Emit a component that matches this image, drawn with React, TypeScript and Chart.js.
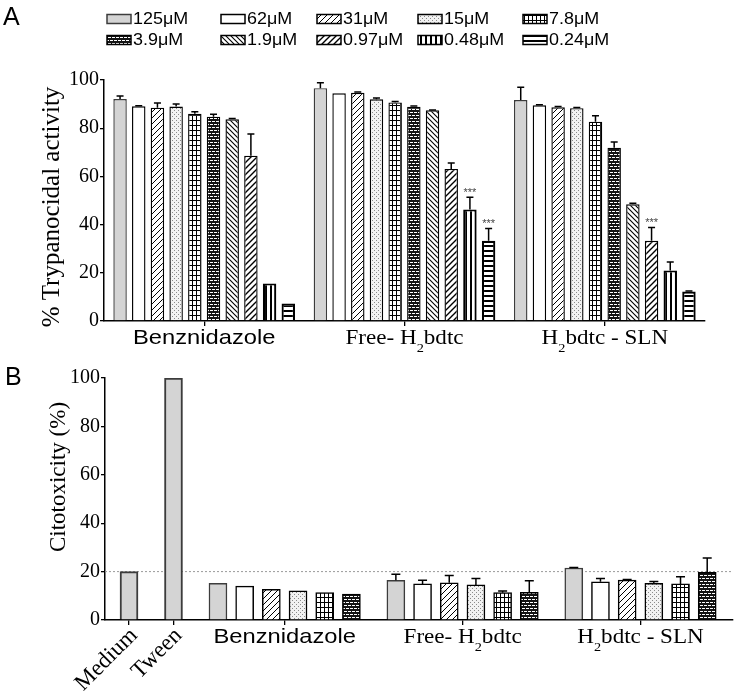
import React, { useEffect, useRef } from 'react';
import { Chart, registerables } from 'chart.js';

Chart.register(...registerables);

// ---------------- data ----------------
const concentrations = ['125μM', '62μM', '31μM', '15μM', '7.8μM', '3.9μM', '1.9μM', '0.97μM', '0.48μM', '0.24μM'];
const treatments = ['Benznidazole', 'Free- H₂bdtc', 'H₂bdtc - SLN'];
const yTicks = [0, 20, 40, 60, 80, 100];

// Panel A – % trypanocidal activity (mean) and SD, one value per concentration
const trypBenznidazole = [92.1, 89.1, 88.5, 89.0, 86.0, 84.8, 83.7, 68.6, 15.6, 7.3];
const trypBenznidazoleSD = [1.3, 0.2, 2.0, 1.0, 0.8, 1.0, 0.3, 9.0, 0.0, 0.0];
const trypFree = [96.6, 94.5, 94.7, 92.0, 90.7, 88.9, 87.4, 63.1, 46.3, 33.3];
const trypFreeSD = [2.3, 0.0, 0.3, 0.5, 0.4, 0.3, 0.2, 2.5, 5.1, 5.1];
const trypSLN = [91.7, 89.5, 88.7, 88.3, 82.7, 71.9, 48.4, 33.3, 21.0, 12.2];
const trypSLNSD = [5.3, 0.2, 0.3, 0.3, 2.5, 2.4, 0.5, 5.5, 3.5, 0.3];
// significance marks: [treatment index, concentration index]
const trypSignificant = [[1, 8], [1, 9], [2, 7]];
const significanceLabel = '***';

// Panel B – cytotoxicity (%)
const cytoControls = ['Medium', 'Tween'];
const cytoControlValues = [20, 100];
const cytoBenznidazole = [15.2, 14.0, 12.7, 12.1, 11.3, 10.7];
const cytoBenznidazoleSD = [0, 0, 0, 0, 0, 0];
const cytoFree = [16.4, 14.9, 15.4, 14.5, 11.3, 11.4];
const cytoFreeSD = [2.5, 1.5, 3.0, 2.7, 0.7, 4.8];
const cytoSLN = [21.5, 15.8, 16.5, 15.2, 14.9, 19.7];
const cytoSLNSD = [0.2, 1.4, 0.2, 0.7, 3.0, 5.9];
const cytoThreshold = 20;

// ---------------- styles / layout ----------------
const SERIF = '"Liberation Serif", "Times New Roman", serif';
const SANS = '"Liberation Sans", Arial, sans-serif';
const treatmentFonts = [SANS, SERIF, SERIF];
const patternKinds = ['gray', 'white', 'diagUp', 'dots', 'grid', 'brick', 'diagDown', 'diagUpBold', 'vStripes', 'hStripes'];
const legendCols = [107, 221, 317, 418, 523];
const legendRows = [19, 40];
const GRAY_BORDER = '#3c3c3c';

// column layout for panel B (linear index axis, in column units)
const controlColumn = (k: number) => k * 5;
const cytoColumn = (g: number, i: number) => 10 + g * 20 + i * 3;
const cytoGroupCenter = (g: number, n: number) => (cytoColumn(g, 0) + cytoColumn(g, n - 1)) / 2;

function makePattern(kind: string): any {
  if (kind === 'gray') return '#d4d4d4';
  if (kind === 'white') return '#ffffff';
  const c = document.createElement('canvas');
  const g = c.getContext('2d') as CanvasRenderingContext2D;
  const setup = (w: number, h: number, bg: string) => {
    c.width = w; c.height = h;
    g.fillStyle = bg; g.fillRect(0, 0, w, h);
  };
  switch (kind) {
    case 'diagUp':
    case 'diagUpBold': {
      const s = 6; setup(s, s, '#fff');
      g.strokeStyle = '#000'; g.lineWidth = kind === 'diagUp' ? 1 : 1.4;
      g.beginPath();
      g.moveTo(0, s); g.lineTo(s, 0);
      g.moveTo(-s / 2, s / 2); g.lineTo(s / 2, -s / 2);
      g.moveTo(s / 2, s * 1.5); g.lineTo(s * 1.5, s / 2);
      g.stroke();
      break;
    }
    case 'diagDown': {
      const s = 5; setup(s, s, '#fff');
      g.strokeStyle = '#000'; g.lineWidth = 1.1;
      g.beginPath();
      g.moveTo(0, 0); g.lineTo(s, s);
      g.moveTo(-s / 2, s / 2); g.lineTo(s / 2, s * 1.5);
      g.moveTo(s / 2, -s / 2); g.lineTo(s * 1.5, s / 2);
      g.stroke();
      break;
    }
    case 'dots':
      setup(4, 4, '#f2f2f2'); g.fillStyle = '#8a8a8a';
      g.fillRect(0, 0, 1, 1); g.fillRect(2, 2, 1, 1);
      break;
    case 'grid':
      setup(4, 5, '#fff'); g.fillStyle = '#000';
      g.fillRect(0, 0, 1, 5); g.fillRect(0, 0, 4, 1);
      break;
    case 'brick':
      setup(8, 6, '#141414'); g.fillStyle = '#fff';
      g.fillRect(0, 1, 3, 1); g.fillRect(4, 1, 3, 1);
      g.fillRect(2, 4, 3, 1); g.fillRect(6, 4, 2, 1); g.fillRect(0, 4, 1, 1);
      break;
    case 'vStripes':
      setup(5, 2, '#fff'); g.fillStyle = '#000'; g.fillRect(0, 0, 2, 2);
      break;
    case 'hStripes':
      setup(2, 5, '#fff'); g.fillStyle = '#000'; g.fillRect(0, 0, 2, 2);
      break;
  }
  return g.createPattern(c, 'repeat');
}

// text with "₂" rendered as a real subscript 2
function drawRich(ctx: CanvasRenderingContext2D, text: string, cx: number, baseline: number, size: number, family: string, scaleX: number) {
  const segs = text.split('₂');
  const pieces: { t: string; sub: boolean; w: number }[] = [];
  segs.forEach((s, i) => {
    if (i > 0) pieces.push({ t: '2', sub: true, w: 0 });
    if (s) pieces.push({ t: s, sub: false, w: 0 });
  });
  const main = `${size}px ${family}`;
  const sub = `${Math.round(size * 0.6)}px ${family}`;
  ctx.save();
  ctx.translate(cx, baseline);
  ctx.scale(scaleX, 1);
  let total = 0;
  pieces.forEach((p) => { ctx.font = p.sub ? sub : main; p.w = ctx.measureText(p.t).width; total += p.w; });
  let x = -total / 2;
  ctx.textAlign = 'left';
  ctx.textBaseline = 'alphabetic';
  ctx.fillStyle = '#000';
  pieces.forEach((p) => {
    ctx.font = p.sub ? sub : main;
    ctx.fillText(p.t, x, p.sub ? size * 0.36 : 0);
    x += p.w;
  });
  ctx.restore();
}

function drawRotatedTitle(ctx: CanvasRenderingContext2D, text: string, cx: number, cy: number, size: number) {
  ctx.save();
  ctx.translate(cx, cy);
  ctx.rotate(-Math.PI / 2);
  ctx.font = `${size}px ${SERIF}`;
  ctx.fillStyle = '#000';
  ctx.textAlign = 'center';
  ctx.textBaseline = 'middle';
  ctx.fillText(text, 0, 0);
  ctx.restore();
}

function drawErrorBars(chart: any, sdOf: (di: number, j: number) => number, capHalf: number) {
  const ctx = chart.ctx as CanvasRenderingContext2D;
  const yScale = chart.scales.y;
  ctx.save();
  ctx.strokeStyle = '#000';
  ctx.lineWidth = 1.5;
  chart.data.datasets.forEach((ds: any, di: number) => {
    const meta = chart.getDatasetMeta(di);
    meta.data.forEach((el: any, j: number) => {
      const sd = sdOf(di, j);
      if (!sd) return;
      const raw = ds.data[j];
      const v = typeof raw === 'number' ? raw : raw.y;
      const yTop = yScale.getPixelForValue(v + sd);
      ctx.beginPath();
      ctx.moveTo(el.x, el.y);
      ctx.lineTo(el.x, yTop);
      ctx.moveTo(el.x - capHalf, yTop);
      ctx.lineTo(el.x + capHalf, yTop);
      ctx.stroke();
    });
  });
  ctx.restore();
}

function axisCommon(tickLen: number) {
  return {
    grid: { display: true, drawOnChartArea: false, drawTicks: true, tickLength: tickLen, color: '#000', lineWidth: 1.3, offset: false },
    border: { display: true, color: '#000', width: 1.5 },
  };
}

export default function App() {
  const refA = useRef<HTMLCanvasElement>(null);
  const refB = useRef<HTMLCanvasElement>(null);

  useEffect(() => {
    const patterns = patternKinds.map(makePattern);
    const trypValues = [trypBenznidazole, trypFree, trypSLN];
    const trypSD = [trypBenznidazoleSD, trypFreeSD, trypSLNSD];
    const cytoValues = [cytoBenznidazole, cytoFree, cytoSLN];
    const cytoSD = [cytoBenznidazoleSD, cytoFreeSD, cytoSLNSD];

    // ---------- Panel A ----------
    const panelA = {
      id: 'panelA',
      afterDatasetsDraw(chart: any) {
        drawErrorBars(chart, (di, j) => trypSD[j][di], 3.5);
        const ctx = chart.ctx as CanvasRenderingContext2D;
        ctx.save();
        ctx.font = `11px ${SANS}`;
        ctx.fillStyle = '#444';
        ctx.textAlign = 'center';
        ctx.textBaseline = 'alphabetic';
        trypSignificant.forEach(([g, i]) => {
          const el = chart.getDatasetMeta(i).data[g];
          const top = chart.scales.y.getPixelForValue(trypValues[g][i] + trypSD[g][i]);
          ctx.fillText(significanceLabel, el.x, top - 1);
        });
        ctx.restore();
      },
      afterDraw(chart: any) {
        const ctx = chart.ctx as CanvasRenderingContext2D;
        const area = chart.chartArea;
        // panel letter
        ctx.save();
        ctx.font = `25px ${SANS}`;
        ctx.fillStyle = '#000';
        ctx.textBaseline = 'alphabetic';
        ctx.fillText('A', 3, 25);
        ctx.restore();
        // legend
        chart.data.datasets.forEach((ds: any, i: number) => {
          const x = legendCols[i % 5];
          const y = legendRows[Math.floor(i / 5)];
          ctx.save();
          ctx.fillStyle = ds.backgroundColor;
          ctx.fillRect(x, y - 4.5, 24, 9);
          ctx.strokeStyle = ds.borderColor;
          ctx.lineWidth = 1.5;
          ctx.strokeRect(x, y - 4.5, 24, 9);
          ctx.translate(x + 26, y + 0.5);
          ctx.scale(1.12, 1);
          ctx.font = `16px ${SANS}`;
          ctx.fillStyle = '#000';
          ctx.textBaseline = 'middle';
          ctx.fillText(ds.label, 0, 0);
          ctx.restore();
        });
        // y title
        drawRotatedTitle(ctx, '% Trypanocidal activity', 52, 207, 25);
        // category labels
        const xs = chart.scales.x;
        treatments.forEach((t, g) => {
          drawRich(ctx, t, xs.getPixelForValue(g), area.bottom + 23, 21, treatmentFonts[g], g === 0 ? 1.13 : 1.1);
        });
      },
    };

    const chartA = new Chart(refA.current as HTMLCanvasElement, {
      type: 'bar',
      data: {
        labels: treatments,
        datasets: concentrations.map((c, i) => ({
          label: c,
          data: trypValues.map((arr) => arr[i]),
          backgroundColor: patterns[i],
          borderColor: i === 0 ? GRAY_BORDER : '#000',
          borderWidth: i >= 8 ? 2.2 : 1.4,
          categoryPercentage: 0.933,
          barPercentage: 0.72,
        })),
      },
      options: {
        responsive: false,
        animation: false,
        devicePixelRatio: 1,
        layout: { padding: { top: 80, right: 33, left: 0, bottom: 0 } },
        plugins: { legend: { display: false }, tooltip: { enabled: false } },
        scales: {
          x: {
            ...axisCommon(5),
            ticks: { display: false },
            afterFit: (s: any) => { s.height = 31; },
          },
          y: {
            ...axisCommon(4),
            min: 0,
            max: 100,
            afterBuildTicks: (s: any) => { s.ticks = yTicks.map((v) => ({ value: v })); },
            ticks: { font: { family: SERIF, size: 20 }, color: '#000', padding: 1 },
            afterFit: (s: any) => { s.width = 104; },
          },
        },
      } as any,
      plugins: [panelA],
    } as any);

    // ---------- Panel B ----------
    const nConc = cytoBenznidazole.length;
    const tickValuesB = [
      ...cytoControls.map((_, k) => controlColumn(k)),
      ...treatments.map((_, g) => cytoGroupCenter(g, nConc)),
    ];
    const panelB = {
      id: 'panelB',
      beforeDatasetsDraw(chart: any) {
        const ctx = chart.ctx as CanvasRenderingContext2D;
        const area = chart.chartArea;
        const y = chart.scales.y.getPixelForValue(cytoThreshold);
        ctx.save();
        ctx.strokeStyle = '#9a9a9a';
        ctx.lineWidth = 1;
        ctx.setLineDash([2, 2]);
        ctx.beginPath();
        ctx.moveTo(area.left, y);
        ctx.lineTo(area.right, y);
        ctx.stroke();
        ctx.restore();
      },
      afterDatasetsDraw(chart: any) {
        drawErrorBars(chart, (di, j) => (di === 0 ? 0 : cytoSD[j][di - 1]), 4.5);
      },
      afterDraw(chart: any) {
        const ctx = chart.ctx as CanvasRenderingContext2D;
        const area = chart.chartArea;
        const xs = chart.scales.x;
        ctx.save();
        ctx.font = `25px ${SANS}`;
        ctx.fillStyle = '#000';
        ctx.textBaseline = 'alphabetic';
        ctx.fillText('B', 5, 33);
        ctx.restore();
        drawRotatedTitle(ctx, 'Citotoxicity (%)', 59, 125, 23);
        // rotated control labels
        cytoControls.forEach((c, k) => {
          const x = xs.getPixelForValue(controlColumn(k));
          ctx.save();
          ctx.translate(x + 5, area.bottom + 12);
          ctx.rotate(-Math.PI / 4);
          ctx.font = `23px ${SERIF}`;
          ctx.fillStyle = '#000';
          ctx.textAlign = 'right';
          ctx.textBaseline = 'middle';
          ctx.fillText(c, 0, 0);
          ctx.restore();
        });
        treatments.forEach((t, g) => {
          drawRich(ctx, t, xs.getPixelForValue(cytoGroupCenter(g, nConc)), area.bottom + 23, 21, treatmentFonts[g], g === 0 ? 1.13 : 1.1);
        });
      },
    };

    const chartB = new Chart(refB.current as HTMLCanvasElement, {
      type: 'bar',
      data: {
        datasets: [
          {
            label: 'controls',
            data: cytoControlValues.map((v, k) => ({ x: controlColumn(k), y: v })),
            backgroundColor: patterns[0],
            borderColor: GRAY_BORDER,
            borderWidth: 2,
            barThickness: 18,
            grouped: false,
          },
          ...cytoBenznidazole.map((_, i) => ({
            label: concentrations[i],
            data: cytoValues.map((arr, g) => ({ x: cytoColumn(g, i), y: arr[i] })),
            backgroundColor: patterns[i],
            borderColor: i === 0 ? GRAY_BORDER : '#000',
            borderWidth: 1.5,
            barThickness: 18,
            grouped: false,
          })),
        ],
      },
      options: {
        responsive: false,
        animation: false,
        devicePixelRatio: 1,
        layout: { padding: { top: 26, right: 5, left: 0, bottom: 0 } },
        plugins: { legend: { display: false }, tooltip: { enabled: false } },
        scales: {
          x: {
            ...axisCommon(5),
            type: 'linear',
            offset: false,
            min: -2.7,
            max: 67.9,
            afterBuildTicks: (s: any) => { s.ticks = tickValuesB.map((v) => ({ value: v })); },
            ticks: { display: false },
            afterFit: (s: any) => { s.height = 75; },
          },
          y: {
            ...axisCommon(4),
            min: 0,
            max: 100,
            afterBuildTicks: (s: any) => { s.ticks = yTicks.map((v) => ({ value: v })); },
            ticks: { font: { family: SERIF, size: 20 }, color: '#000', padding: 1 },
            afterFit: (s: any) => { s.width = 105; },
          },
        },
      } as any,
      plugins: [panelB],
    } as any);

    return () => {
      chartA.destroy();
      chartB.destroy();
    };
  }, []);

  return (
    <div style={{ position: 'absolute', left: 0, top: 0, width: 738, height: 695, background: '#fff' }}>
      <canvas ref={refA} width={738} height={352} style={{ position: 'absolute', left: 0, top: 0 }} />
      <canvas ref={refB} width={738} height={343} style={{ position: 'absolute', left: 0, top: 352 }} />
    </div>
  );
}
